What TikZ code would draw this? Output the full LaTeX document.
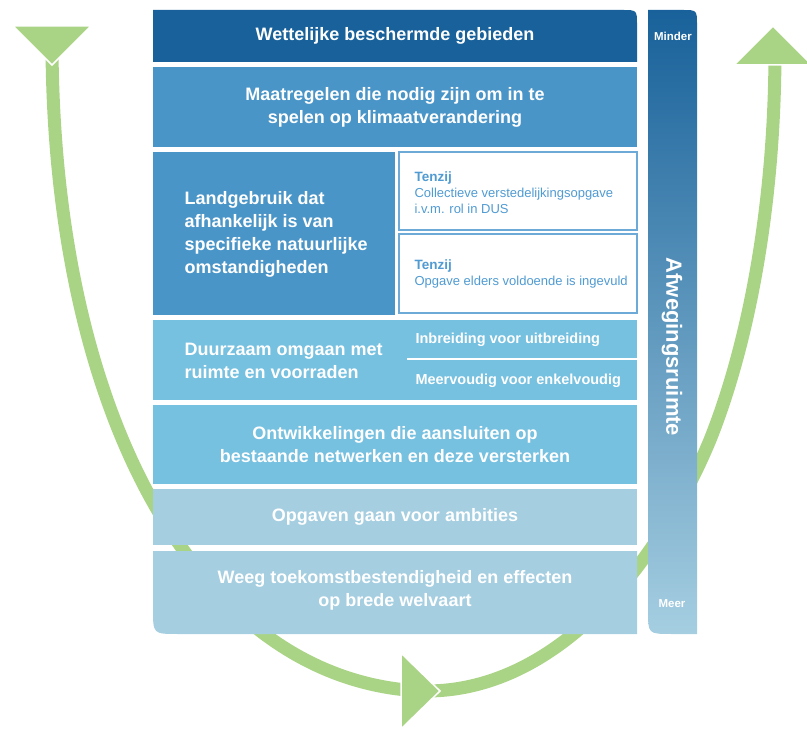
\documentclass[tikz,border=0pt]{standalone}
\usepackage{fontspec}
\setmainfont{Liberation Sans}
\usepackage{color}
\definecolor{donker}{RGB}{24,97,154}
\definecolor{midden}{RGB}{74,149,200}
\definecolor{licht}{RGB}{118,192,224}
\definecolor{bleek}{RGB}{165,206,225}
\definecolor{rand}{RGB}{110,170,215}
\definecolor{tekst}{RGB}{80,155,210}
\definecolor{groen}{RGB}{170,212,133}

\begin{document}
\begin{tikzpicture}[x=1pt,y=-1pt,
  vak/.style={rectangle,inner sep=0pt,minimum width=484pt},
  kop/.style={text=white,font=\fontsize{18}{23}\selectfont\bfseries,align=center},
  klein/.style={text=white,font=\fontsize{14.5}{16}\selectfont\bfseries,anchor=west},
  wit/.style={rectangle,draw=rand,fill=white,line width=1.2pt,inner sep=0pt,minimum width=238pt},
  tenzijtekst/.style={text=tekst,font=\fontsize{13}{16}\selectfont,align=left,anchor=west},
  pijl/.style={draw=groen,line width=13pt},
  punt/.style={fill=groen,draw=white,line width=1.5pt}]
\useasboundingbox (0,0) rectangle (807,730);
\coordinate (linksboven) at (52,50);
\coordinate (onderlinks) at (420,691);
\coordinate (onderrechts) at (428,691);
\coordinate (rechtsboven) at (775,50);
\draw[pijl] (linksboven) .. controls (55,420) and (200,680) .. (onderlinks);
\draw[pijl] (onderrechts) .. controls (560,690) and (660,560) .. (710,440) .. controls (750,340) and (775,200) .. (rechtsboven);
\fill[punt] (13,26) -- (91,26) -- (52,65) -- cycle;
\fill[punt] (401,653) -- (440,691) -- (401,729) -- cycle;
\fill[punt] (773,26) -- (812,65) -- (734,65) -- cycle;
\fill[donker] (153,10) -- (622,10) .. controls (637,10) .. (637,25) -- (637,62) -- (153,62) -- cycle;
\node[kop] (wettelijk) at (395,36) {Wettelijke beschermde gebieden};
\node[vak,fill=midden,minimum height=80pt] (klimaat) at (395,107) {};
\node[kop] (klimaattekst) at (klimaat) {Maatregelen die nodig zijn om in te\\spelen op klimaatverandering};
\node[vak,fill=midden,minimum width=242pt,minimum height=163pt] (landgebruik) at (274,233.5) {};
\node[kop,align=left,anchor=west] (landtekst) at (181,234) {Landgebruik dat\\afhankelijk is van\\specifieke natuurlijke\\omstandigheden};
\node[wit,minimum height=78pt] (tenzija) at (518,191) {};
\node[tenzijtekst] (tenzijatekst) at (411,192.5) {{\bfseries\fontsize{13.5}{16}\selectfont Tenzij}\\Collectieve verstedelijkingsopgave\\i.v.m. rol in DUS};
\node[wit,minimum height=79pt] (tenzijb) at (518,273.5) {};
\node[tenzijtekst] (tenzijbtekst) at (411,273.5) {{\bfseries\fontsize{13.5}{16}\selectfont Tenzij}\\Opgave elders voldoende is ingevuld};
\node[vak,fill=licht,minimum height=80pt] (duurzaam) at (395,360) {};
\node[kop,align=left,anchor=west] (duurzaamtekst) at (181,361) {Duurzaam omgaan met\\ruimte en voorraden};
\coordinate (scheidinglinks) at (407,359);
\coordinate (scheidingrechts) at (637,359);
\draw[white,line width=2pt] (scheidinglinks) -- (scheidingrechts);
\node[klein] (inbreiding) at (412,340) {Inbreiding voor uitbreiding};
\node[klein] (meervoudig) at (412,381) {Meervoudig voor enkelvoudig};
\node[vak,fill=licht,minimum height=79pt] (netwerken) at (395,444.5) {};
\node[kop] (netwerkentekst) at (netwerken) {Ontwikkelingen die aansluiten op\\bestaande netwerken en deze versterken};
\node[vak,fill=bleek,minimum height=56pt] (opgaven) at (395,517) {};
\node[kop] (opgaventekst) at (opgaven) {Opgaven gaan voor ambities};
\fill[bleek] (153,551) -- (637,551) -- (637,634) -- (178,634) .. controls (153,634) .. (153,609) -- cycle;
\node[kop] (welvaart) at (395,590) {Weeg toekomstbestendigheid en effecten\\op brede welvaart};
\shade[top color=donker,middle color=midden,bottom color=bleek] (648,10) -- (682,10) .. controls (697,10) .. (697,25) -- (697,634) -- (672,634) .. controls (648,634) .. (648,610) -- cycle;
\node[text=white,font=\fontsize{11.5}{12}\selectfont\bfseries] (minder) at (673,36) {Minder};
\node[text=white,font=\fontsize{11.5}{12}\selectfont\bfseries] (meer) at (672,604) {Meer};
\node[text=white,font=\fontsize{22}{24}\selectfont\bfseries,rotate=-90] (ruimte) at (672,347) {Afwegingsruimte};
\end{tikzpicture}
\end{document}
